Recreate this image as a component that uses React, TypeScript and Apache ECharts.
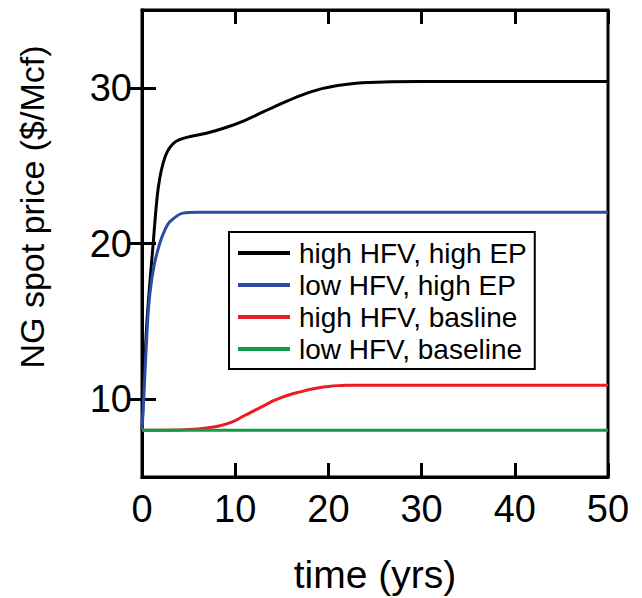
import React, { useEffect, useRef } from "react";
import * as echarts from "echarts";

const seriesNames = [
  "high HFV, high EP",
  "low HFV, high EP",
  "high HFV, basline",
  "low HFV, baseline",
];
const seriesColors = ["#000000", "#2b4ba8", "#ec1c24", "#129a44"];

const highHfvHighEp: [number, number][] = [
  [0, 8], [0.5, 14.7], [1.2, 20], [1.75, 23.6], [2.5, 25.6], [3.5, 26.5], [5, 26.85],
  [7, 27.1], [9, 27.45], [11, 27.9], [13, 28.45], [15, 29.0], [17, 29.5], [19, 29.9],
  [21, 30.15], [23, 30.3], [26, 30.38], [30, 30.4], [40, 30.4], [50, 30.4],
];
const lowHfvHighEp: [number, number][] = [
  [0, 8], [0.15, 9.6], [0.57, 14.7], [0.85, 16.8], [1.3, 18.6], [1.9, 20], [2.4, 20.8],
  [3, 21.4], [4.4, 21.95], [6, 22], [10, 22], [20, 22], [35, 22], [50, 22],
];
const highHfvBaseline: [number, number][] = [
  [0, 8], [4, 8.02], [6, 8.08], [8, 8.25], [9, 8.4], [10, 8.62], [11, 8.95], [12, 9.25],
  [13, 9.55], [14, 9.87], [15, 10.12], [16, 10.32], [17, 10.47], [18, 10.62], [19, 10.74],
  [20, 10.82], [21, 10.87], [22, 10.89], [24, 10.9], [30, 10.9], [40, 10.9], [50, 10.9],
];
const lowHfvBaseline: [number, number][] = [
  [0, 8], [50, 8],
];
const seriesData = [highHfvHighEp, lowHfvHighEp, highHfvBaseline, lowHfvBaseline];

const xTicks = [0, 10, 20, 30, 40, 50];
const yTicks = [10, 20, 30];

const FONT = "Liberation Sans, Arial, Helvetica, sans-serif";

export default function App() {
  const ref = useRef<HTMLDivElement>(null);
  useEffect(() => {
    document.body.style.margin = "0";
    if (!ref.current) return;
    const chart = echarts.init(ref.current, undefined, { renderer: "svg" });
    const axisLine = { show: true, lineStyle: { color: "#000", width: 3 } };
    const axisTick = { show: true, inside: true, length: 14, lineStyle: { color: "#000", width: 3 } };
    chart.setOption({
      animation: false,
      backgroundColor: "#fff",
      grid: {
        left: 142, right: 34, top: 10, bottom: 121,
        show: true, borderColor: "#000", borderWidth: 3,
      },
      xAxis: [
        {
          type: "value", position: "bottom", min: 0, max: 50, interval: 10,
          axisLine, axisTick,
          axisLabel: { fontSize: 38, color: "#000", fontFamily: FONT, margin: 13, customValues: xTicks },
          splitLine: { show: false },
        },
        {
          type: "value", position: "top", min: 0, max: 50, interval: 10,
          axisLine, axisTick,
          axisLabel: { show: false },
          splitLine: { show: false },
        },
      ],
      yAxis: [
        {
          type: "value", position: "left", min: 5, max: 35,
          axisLine,
          axisTick: { ...axisTick, customValues: yTicks },
          axisLabel: { fontSize: 38, color: "#000", fontFamily: FONT, margin: 10, customValues: yTicks },
          splitLine: { show: false },
        },
        {
          type: "value", position: "right", min: 5, max: 35,
          axisLine,
          axisTick: { ...axisTick, customValues: yTicks },
          axisLabel: { show: false, customValues: yTicks },
          splitLine: { show: false },
        },
      ],
      legend: {
        orient: "vertical",
        left: 229, top: 232,
        icon: "rect", itemWidth: 52, itemHeight: 4, itemGap: 0,
        padding: [5, 8, 4, 9],
        borderColor: "#000", borderWidth: 2, backgroundColor: "#fff",
        textStyle: { fontSize: 28, lineHeight: 32, color: "#000", fontFamily: FONT, padding: [0, 0, 0, 4] },
        data: seriesNames,
      },
      graphic: [
        {
          type: "text", x: 32, y: 207, rotation: Math.PI / 2,
          style: {
            text: "NG spot price ($/Mcf)", fontSize: 34, fontFamily: FONT, fill: "#000",
            textAlign: "center", textVerticalAlign: "middle",
          },
        },
        {
          type: "text", x: 375, y: 574,
          style: {
            text: "time (yrs)", fontSize: 39, fontFamily: FONT, fill: "#000",
            textAlign: "center", textVerticalAlign: "middle",
          },
        },
      ],
      series: seriesNames.map((name, i) => ({
        name, type: "line", data: seriesData[i], showSymbol: false,
        smooth: 0.3,
        color: seriesColors[i],
        lineStyle: { color: seriesColors[i], width: 3 },
        xAxisIndex: 0, yAxisIndex: 0,
      })),
    });
    return () => chart.dispose();
  }, []);
  return <div ref={ref} style={{ width: 642, height: 598 }} />;
}
